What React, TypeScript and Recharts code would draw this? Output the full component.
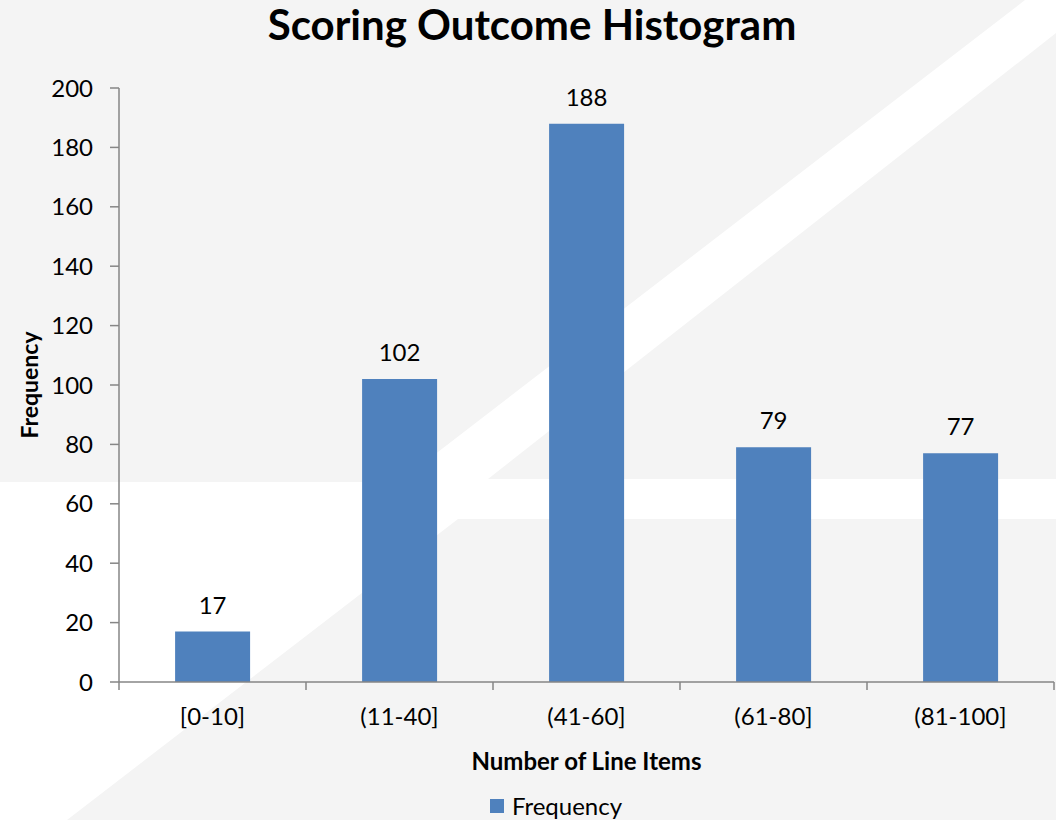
import React from 'react';
import { BarChart, Bar, XAxis, YAxis, LabelList, Legend } from 'recharts';

const categories = ['[0-10]', '(11-40]', '(41-60]', '(61-80]', '(81-100]'];
const frequency = [17, 102, 188, 79, 77];
const yTicks = [0, 20, 40, 60, 80, 100, 120, 140, 160, 180, 200];

const data = categories.map((c, i) => ({ range: c, Frequency: frequency[i] }));

const FONT = 'Lato, "Open Sans", sans-serif';
const BAR = '#4f81bd';
const AXIS = '#868686';
const X_TICK_MARGIN = 26;
const X_TICK_LEN = 8;

const LegendContent = () => (
  <div style={{ display: 'flex', justifyContent: 'center', alignItems: 'center', height: 24, paddingLeft: 58, fontFamily: FONT, fontSize: 24, color: '#000' }}>
    <span style={{ display: 'inline-block', width: 14, height: 14, background: BAR, marginRight: 8 }} />
    <span style={{ lineHeight: '24px' }}>Frequency</span>
  </div>
);

// Category tick: label at band centre, tick marks at the band boundaries (Excel style)
const CategoryTick = (props: any) => {
  const { x, y, payload, index, visibleTicksCount } = props;
  const half = payload && typeof payload.offset === 'number' ? payload.offset : 0;
  const axisY = y - X_TICK_MARGIN;
  const isLast = index === visibleTicksCount - 1;
  return (
    <g>
      <line x1={x - half} x2={x - half} y1={axisY} y2={axisY + X_TICK_LEN} stroke={AXIS} strokeWidth={1.5} />
      {isLast && <line x1={x + half} x2={x + half} y1={axisY} y2={axisY + X_TICK_LEN} stroke={AXIS} strokeWidth={1.5} />}
      <text x={x} y={y} dy="0.71em" textAnchor="middle" fill="#000" fontSize={24} fontFamily={FONT}>
        {payload.value}
      </text>
    </g>
  );
};

export default function App() {
  return (
    <div style={{ position: 'absolute', left: 0, top: 0, width: 1056, height: 820, background: '#f4f4f4', overflow: 'hidden' }}>
      <svg width={1056} height={820} style={{ position: 'absolute', left: 0, top: 0 }}>
        <polygon
          points="1025,0 1056,0 1056,33 488,479 1056,479 1056,519 458,519 67,820 0,820 0,482 399,482"
          fill="#ffffff"
        />
      </svg>
      <div style={{ position: 'absolute', left: 0, top: 0 }}>
        <BarChart
          width={1056}
          height={820}
          data={data}
          margin={{ top: 88, right: 2, left: 0, bottom: 2 }}
          barCategoryGap="30%"
        >
          <text x={532} y={40} textAnchor="middle" fontFamily={FONT} fontSize={42} fontWeight={700} fill="#000">
            Scoring Outcome Histogram
          </text>
          <text
            x={38}
            y={385}
            transform="rotate(-90, 38, 385)"
            textAnchor="middle"
            fontFamily={FONT}
            fontSize={23}
            fontWeight={700}
            fill="#000"
          >
            Frequency
          </text>
          <XAxis
            dataKey="range"
            type="category"
            height={112}
            interval={0}
            axisLine={{ stroke: AXIS, strokeWidth: 1.5 }}
            tickLine={false}
            tickSize={0}
            tickMargin={X_TICK_MARGIN}
            tick={<CategoryTick />}
            label={{ value: 'Number of Line Items', position: 'insideBottom', offset: 24, fill: '#000', fontSize: 24, fontWeight: 700, fontFamily: FONT }}
          />
          <YAxis
            width={119}
            domain={[0, 200]}
            ticks={yTicks}
            interval={0}
            tickSize={9}
            tickMargin={17}
            axisLine={{ stroke: AXIS, strokeWidth: 1.5 }}
            tickLine={{ stroke: AXIS, strokeWidth: 1.5 }}
            tick={{ fill: '#000', fontSize: 24, fontFamily: FONT }}
          />
          <Legend verticalAlign="bottom" align="center" content={<LegendContent />} />
          <Bar dataKey="Frequency" fill={BAR} isAnimationActive={false}>
            <LabelList dataKey="Frequency" position="top" offset={18} fill="#000" fontSize={24} fontFamily={FONT} />
          </Bar>
        </BarChart>
      </div>
    </div>
  );
}
